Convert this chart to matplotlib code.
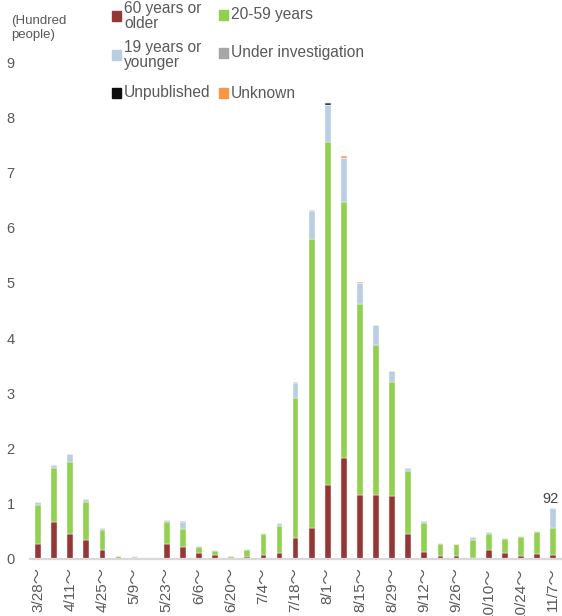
import numpy as np
import matplotlib
matplotlib.use("Agg")
import matplotlib.pyplot as plt
from matplotlib.patches import Rectangle

# weekly cases, in hundreds of people
weeks = ['3/28', '4/4', '4/11', '4/18', '4/25', '5/2', '5/9', '5/16', '5/23', '5/30',
         '6/6', '6/13', '6/20', '6/27', '7/4', '7/11', '7/18', '7/25', '8/1', '8/8',
         '8/15', '8/22', '8/29', '9/5', '9/12', '9/19', '9/26', '10/3', '10/10', '10/17',
         '10/24', '10/31', '11/7']
age60 = [0.28, 0.67, 0.45, 0.35, 0.17, 0.00, 0.02, 0.00, 0.27, 0.22,
         0.10, 0.07, 0.02, 0.04, 0.08, 0.10, 0.38, 0.56, 1.34, 1.83,
         1.16, 1.15, 1.14, 0.45, 0.12, 0.06, 0.05, 0.02, 0.16, 0.10,
         0.05, 0.09, 0.07]
age20 = [0.70, 0.97, 1.31, 0.69, 0.35, 0.06, 0.01, 0.00, 0.40, 0.33,
         0.12, 0.07, 0.04, 0.12, 0.37, 0.50, 2.54, 5.23, 6.22, 4.64,
         3.45, 2.73, 2.07, 1.14, 0.53, 0.21, 0.22, 0.32, 0.29, 0.26,
         0.34, 0.39, 0.50]
age19 = [0.06, 0.06, 0.15, 0.04, 0.04, 0.00, 0.02, 0.00, 0.04, 0.12,
         0.02, 0.02, 0.00, 0.02, 0.02, 0.05, 0.27, 0.51, 0.67, 0.79,
         0.38, 0.36, 0.20, 0.06, 0.03, 0.015, 0.01, 0.05, 0.03, 0.02,
         0.03, 0.03, 0.35]
investigating = [0, 0, 0, 0, 0, 0, 0, 0, 0, 0.01,
                 0, 0.01, 0, 0, 0, 0, 0.02, 0.02, 0, 0,
                 0, 0, 0, 0, 0, 0, 0, 0, 0, 0,
                 0, 0, 0]
unpublished = [0]*18 + [0.03] + [0]*14
unknown = [0]*19 + [0.03, 0.02] + [0]*12

series = [("60 years or\nolder", age60, "#953735"),
          ("20-59 years", age20, "#92d050"),
          ("19 years or\nyounger", age19, "#b9cde5"),
          ("Under investigation", investigating, "#a6a6a6"),
          ("Unpublished", unpublished, "#0d0d0d"),
          ("Unknown", unknown, "#f79646")]

W, H = 562, 616
fig = plt.figure(figsize=(W/100, H/100), dpi=100)
ax = fig.add_axes([30/W, 57/H, 1 - 30/W, (559-62)/H])

x = np.arange(len(weeks))
bottom = np.zeros(len(weeks))
for name, vals, col in series:
    vals = np.array(vals, dtype=float)
    ax.bar(x, vals, 0.36, bottom=bottom, color=col, edgecolor="white", linewidth=0.3)
    bottom += vals

total = bottom
ax.text(x[-1] - 0.15, total[-1] + 0.04, str(int(round(total[-1]*100))),
        ha="center", va="bottom", fontsize=10.5, color="#404040",
        family="Liberation Sans")

ax.set_ylim(0, 9)
ax.set_xlim(-0.5, 32.55)
ax.set_yticks(range(10))
ax.set_xticks(x[::2])
ax.set_xticklabels([w + "〜" for w in weeks[::2]], rotation=90,
                   family=["Liberation Sans", "Noto Sans CJK JP"])
ax.tick_params(axis="x", length=0, pad=6, labelsize=11, labelcolor="#595959")
ax.tick_params(axis="y", length=0, pad=14, labelsize=10.5, labelcolor="#595959")
for lab in ax.get_yticklabels():
    lab.set_family("Liberation Sans")
    lab.set_ha("center")
for s in ["top", "right", "left"]:
    ax.spines[s].set_visible(False)
ax.spines["bottom"].set_color("#d9d9d9")
ax.spines["bottom"].set_linewidth(1.6)

fig.text(11/W, 1 - 15/H, "(Hundred\npeople)", ha="left", va="top",
         fontsize=9.5, color="#595959", family="Liberation Sans", linespacing=1.25)

# legend drawn by hand, Excel style
legend_pos = [(112, 16), (219, 15), (112, 55), (219, 53), (112, 93), (219, 93)]
for (name, vals, col), (px, py) in zip(series, legend_pos):
    fig.patches.append(Rectangle((px/W, 1 - (py+4.5)/H), 9/W, 9/H,
                                 transform=fig.transFigure, color=col))
    fig.text((px+12)/W, 1 - py/H, name, ha="left", va="center", fontsize=11.2,
             color="#595959", family="Liberation Sans", linespacing=0.95)

fig.savefig("out.png", dpi=100)
